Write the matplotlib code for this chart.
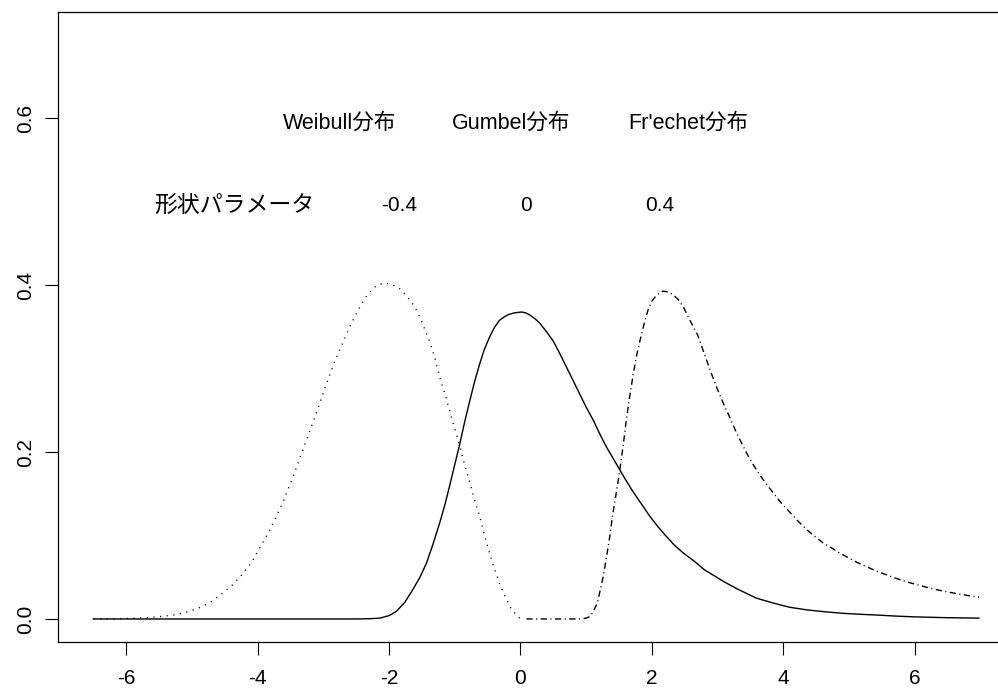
import matplotlib
matplotlib.use("Agg")
import matplotlib.pyplot as plt

# values
weibull_x = [-6.5, -6.0, -5.64, -5.3, -5.11, -4.9, -4.72, -4.55, -4.38, -4.24, -4.10,
             -3.97, -3.84, -3.72, -3.61, -3.45, -3.27, -3.12, -2.98, -2.84, -2.70, -2.60,
             -2.50, -2.40, -2.32, -2.20, -2.08, -1.96, -1.84, -1.75, -1.66, -1.58, -1.51,
             -1.45, -1.38, -1.30, -1.23, -1.15, -1.08, -1.00, -0.92, -0.85, -0.77, -0.70,
             -0.62, -0.55, -0.47, -0.40, -0.32, -0.23, -0.14, -0.05, 0.0]
weibull_y = [0.0, 0.0005, 0.0016, 0.0045, 0.0076, 0.013, 0.020, 0.030, 0.041, 0.053, 0.067,
             0.085, 0.103, 0.122, 0.141, 0.173, 0.212, 0.244, 0.276, 0.306, 0.332, 0.350,
             0.366, 0.380, 0.390, 0.399, 0.403, 0.401, 0.396, 0.389, 0.380, 0.370, 0.358,
             0.346, 0.332, 0.312, 0.290, 0.270, 0.250, 0.228, 0.206, 0.185, 0.163, 0.143,
             0.123, 0.101, 0.079, 0.061, 0.043, 0.026, 0.012, 0.004, 0.0]

gumbel_x = [-6.5, -3.0, -2.5, -2.3, -2.14, -2.0, -1.89, -1.76, -1.64, -1.53, -1.43, -1.33,
            -1.23, -1.15, -1.08, -1.00, -0.92, -0.85, -0.77, -0.70, -0.62, -0.55, -0.47,
            -0.40, -0.32, -0.25, -0.18, -0.09, 0.015, 0.08, 0.15, 0.22, 0.29, 0.40, 0.50,
            0.60, 0.70, 0.80, 0.90, 1.00, 1.11, 1.20, 1.31, 1.40, 1.51, 1.60, 1.71, 1.84,
            1.97, 2.10, 2.22, 2.35, 2.48, 2.65, 2.80, 3.09, 3.30, 3.59, 3.85, 4.10, 4.35,
            4.61, 4.90, 5.17, 5.40, 5.70, 6.0, 6.5, 6.98]
gumbel_y = [0.0, 0.0, 0.0, 0.0003, 0.001, 0.004, 0.009, 0.020, 0.035, 0.050, 0.067, 0.090,
            0.115, 0.137, 0.159, 0.185, 0.211, 0.236, 0.262, 0.284, 0.306, 0.323, 0.338,
            0.349, 0.358, 0.362, 0.365, 0.367, 0.368, 0.367, 0.364, 0.360, 0.355, 0.344, 0.333,
            0.318, 0.302, 0.286, 0.270, 0.254, 0.238, 0.223, 0.206, 0.194, 0.179, 0.167, 0.153,
            0.138, 0.123, 0.110, 0.099, 0.088, 0.079, 0.069, 0.059, 0.045, 0.036, 0.025, 0.019,
            0.014, 0.011, 0.0088, 0.0068, 0.0056, 0.0048, 0.0035, 0.0025, 0.0015, 0.001]

frechet_x = [0.09, 0.93, 1.00, 1.06, 1.11, 1.17, 1.21, 1.26, 1.31, 1.36, 1.40, 1.45, 1.50,
             1.54, 1.58, 1.61, 1.66, 1.71, 1.76, 1.82, 1.88, 1.94, 2.00, 2.07, 2.12, 2.17,
             2.25, 2.32, 2.40, 2.48, 2.58, 2.70, 2.78, 2.88, 2.98, 3.08, 3.19, 3.29, 3.39,
             3.49, 3.59, 3.72, 3.85, 3.97, 4.10, 4.23, 4.36, 4.48, 4.61, 4.74, 4.86, 5.00,
             5.12, 5.40, 5.67, 5.90, 6.18, 6.40, 6.69, 6.98]
frechet_y = [0.0, 0.0, 0.001, 0.003, 0.009, 0.019, 0.033, 0.051, 0.074, 0.099, 0.123, 0.147,
             0.172, 0.194, 0.218, 0.238, 0.265, 0.290, 0.313, 0.334, 0.353, 0.370, 0.381,
             0.388, 0.391, 0.393, 0.392, 0.389, 0.383, 0.374, 0.358, 0.340, 0.322, 0.300,
             0.279, 0.260, 0.241, 0.223, 0.207, 0.192, 0.179, 0.164, 0.151, 0.139, 0.128,
             0.117, 0.107, 0.099, 0.091, 0.085, 0.079, 0.073, 0.068, 0.058, 0.050, 0.044,
             0.038, 0.034, 0.0296, 0.026]

dist_names = ["Weibull分布", "Gumbel分布", "Fr'echet分布"]
dist_name_x = [-2.75, -0.14, 2.55]
shape_label = "形状パラメータ"
shape_values = ["-0.4", "0", "0.4"]
shape_value_x = [-1.85, 0.09, 2.12]

x_ticks = [-6, -4, -2, 0, 2, 4, 6]
y_ticks = [0.0, 0.2, 0.4, 0.6]
y_tick_labels = ["0.0", "0.2", "0.4", "0.6"]

fonts = ["Liberation Sans", "Noto Sans CJK JP", "DejaVu Sans"]
plt.rcParams["font.family"] = fonts

fig = plt.figure(figsize=(9.98, 6.92), dpi=100)
# plot box runs off the right edge of the picture, as in the reference
ax = fig.add_axes([0.0581, 0.0718, 0.9597, 0.9113])

ax.plot(weibull_x, weibull_y, color="black", lw=1.0, linestyle=(0, (0.8, 4.0)))
ax.plot(gumbel_x, gumbel_y, color="black", lw=1.0)
ax.plot(frechet_x, frechet_y, color="black", lw=1.0, linestyle=(0, (4.5, 2.5, 0.8, 2.5)))

for name, x in zip(dist_names, dist_name_x):
    ax.text(x, 0.594, name, ha="center", va="center", fontsize=15.5, family=fonts)
ax.text(-4.36, 0.496, shape_label, ha="center", va="center", fontsize=16.5, family=fonts)
for val, x in zip(shape_values, shape_value_x):
    ax.text(x, 0.496, val, ha="center", va="center", fontsize=15, family=fonts)

ax.set_xlim(-7.04, 7.54)
ax.set_ylim(-0.028, 0.728)
ax.set_xticks(x_ticks)
ax.set_xticklabels([str(t) for t in x_ticks])
ax.set_yticks(y_ticks)
ax.set_yticklabels(y_tick_labels, rotation=90, va="center")
ax.tick_params(direction="out", length=9.4, width=0.8, labelsize=15, pad=10)
ax.tick_params(axis="y", pad=7)
for s in ax.spines.values():
    s.set_linewidth(0.9)

fig.savefig("out.png", dpi=100)
